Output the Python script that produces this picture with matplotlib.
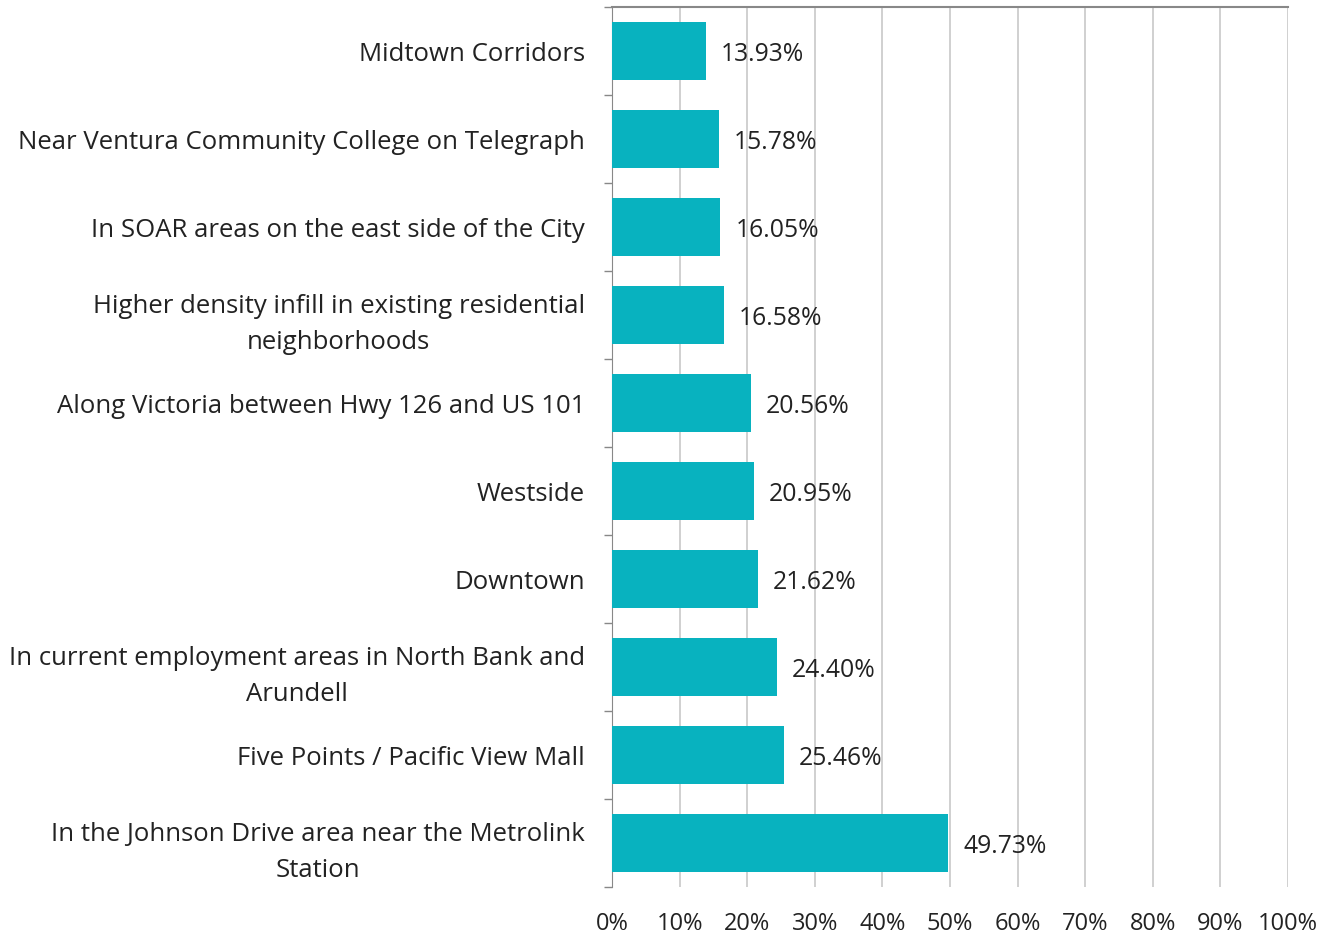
import matplotlib
matplotlib.use("Agg")
import matplotlib.pyplot as plt
from matplotlib.ticker import FixedLocator, PercentFormatter

categories = [
    "Midtown Corridors",
    "Near Ventura Community College on Telegraph",
    "In SOAR areas on the east side of the City",
    "Higher density infill in existing residential\nneighborhoods",
    "Along Victoria between Hwy 126 and US 101",
    "Westside",
    "Downtown",
    "In current employment areas in North Bank and\nArundell",
    "Five Points / Pacific View Mall",
    "In the Johnson Drive area near the Metrolink\nStation",
]
values = [13.93, 15.78, 16.05, 16.58, 20.56, 20.95, 21.62, 24.40, 25.46, 49.73]
xticks = [0, 10, 20, 30, 40, 50, 60, 70, 80, 90, 100]

FONT = ["Open Sans", "DejaVu Sans"]
plt.rcParams["font.family"] = FONT

fig = plt.figure(figsize=(13.22, 9.37), dpi=100)
ax = fig.add_axes([612/1322, 1-888/937, (1288-612)/1322, (888-8)/937])

ypos = list(range(len(categories)))
ax.barh(ypos, values, height=0.66, color="#08b2bf", zorder=3)
ax.set_ylim(len(categories)-0.5, -0.5)
ax.set_xlim(0, 100)

for y, v in zip(ypos, values):
    ax.text(v + 2.2, y + 0.03, f"{v:.2f}%", va="center", ha="left", fontsize=17.8, color="#222222")

ax.set_yticks(ypos)
ax.set_yticklabels(categories, fontsize=18.5, color="#222222", multialignment="center",
                   linespacing=1.58)
ax.tick_params(axis="y", which="major", length=0, pad=19.5)
ax.yaxis.set_minor_locator(FixedLocator([i - 0.5 for i in range(len(categories)+1)]))
ax.tick_params(axis="y", which="minor", length=8*0.72, color="#888888", width=1)

ax.set_xticks(xticks)
ax.xaxis.set_major_formatter(PercentFormatter(decimals=0))
ax.tick_params(axis="x", length=0, pad=17.5, labelsize=17, labelcolor="#222222")
ax.grid(axis="x", color="#c8c8c8", linewidth=1.2, zorder=0)

for s in ["right", "bottom"]:
    ax.spines[s].set_visible(False)
ax.spines["left"].set_color("#888888")
ax.spines["top"].set_color("#888888")
ax.spines["top"].set_linewidth(1.5)

fig.savefig("out.png", dpi=100)
